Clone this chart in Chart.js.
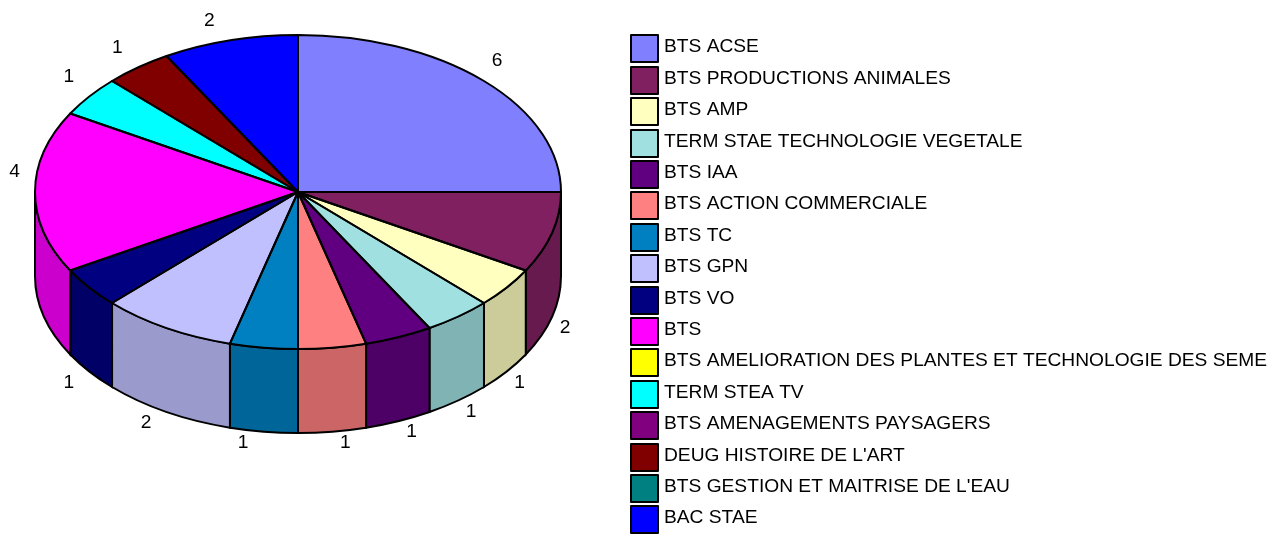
<!DOCTYPE html>
<html>
<head>
<meta charset="utf-8">
<title>Effectifs par formation</title>
<script src="https://cdn.jsdelivr.net/npm/chart.js@4"></script>
<style>
  html, body { margin: 0; padding: 0; background: #fff; }
  canvas { display: block; }
</style>
</head>
<body>
<canvas id="pieChart" width="1288" height="536"></canvas>
<script>
const categories = [
  "BTS ACSE", "BTS PRODUCTIONS ANIMALES", "BTS AMP", "TERM STAE TECHNOLOGIE VEGETALE",
  "BTS IAA", "BTS ACTION COMMERCIALE", "BTS TC", "BTS GPN", "BTS VO", "BTS",
  "BTS AMELIORATION DES PLANTES ET TECHNOLOGIE DES SEME", "TERM STEA TV",
  "BTS AMENAGEMENTS PAYSAGERS", "DEUG HISTOIRE DE L'ART",
  "BTS GESTION ET MAITRISE DE L'EAU", "BAC STAE",
];
const values = [6, 2, 1, 1, 1, 1, 1, 2, 1, 4, 0, 1, 0, 1, 0, 2];
const colors = [
  "#8080ff", "#802060", "#ffffc0", "#a0e0e0", "#600080", "#ff8080", "#0080c0", "#c0c0ff",
  "#000080", "#ff00ff", "#ffff00", "#00ffff", "#800080", "#800000", "#008080", "#0000ff",
];
const sideColors = [
  "#6666cc", "#661a4d", "#cccc9a", "#80b3b3", "#4d0066", "#cc6666", "#00669a", "#9a9acc",
  "#000066", "#cc00cc", "#cccc00", "#00cccc", "#660066", "#660000", "#006666", "#0000cc",
];

// the flattened pie on the page
const pieCenterX = 298;
const pieCenterY = 192;
const pieSquash = 157 / 263;
const pieDepth = 84;
const fontName = '"Liberation Sans", Arial, sans-serif';

const pie3d = {
  id: "pie3d",
  beforeDatasetsDraw(chart) {
    const ctx = chart.ctx;
    const arcs = chart.getDatasetMeta(0).data;
    const rx = arcs[0].outerRadius;
    const ry = rx * pieSquash;

    // walls, only the part of each slice that faces the front
    arcs.forEach((arc, i) => {
      const from = Math.max(arc.startAngle, 0);
      const to = Math.min(arc.endAngle, Math.PI);
      if (to <= from) return;
      ctx.save();
      ctx.beginPath();
      ctx.ellipse(pieCenterX, pieCenterY, rx, ry, 0, from, to);
      ctx.ellipse(pieCenterX, pieCenterY + pieDepth, rx, ry, 0, to, from, true);
      ctx.closePath();
      ctx.fillStyle = sideColors[i];
      ctx.fill();
      ctx.lineWidth = 2;
      ctx.strokeStyle = "#000";
      ctx.stroke();
      ctx.restore();
    });

    // the slices themselves are drawn by chart.js, squashed
    ctx.save();
    ctx.translate(pieCenterX, pieCenterY);
    ctx.scale(1, pieSquash);
    ctx.translate(-arcs[0].x, -arcs[0].y);
  },
  afterDatasetsDraw(chart) {
    const ctx = chart.ctx;
    ctx.restore();

    const arcs = chart.getDatasetMeta(0).data;
    const rx = arcs[0].outerRadius;
    const ry = rx * pieSquash;

    // outlines
    arcs.forEach((arc) => {
      if (arc.endAngle - arc.startAngle <= 0) return;
      ctx.beginPath();
      ctx.moveTo(pieCenterX, pieCenterY);
      ctx.ellipse(pieCenterX, pieCenterY, rx, ry, 0, arc.startAngle, arc.endAngle);
      ctx.closePath();
      ctx.lineWidth = 2;
      ctx.lineJoin = "round";
      ctx.strokeStyle = "#000";
      ctx.stroke();
    });

    // value labels
    ctx.font = "19.2px " + fontName;
    ctx.fillStyle = "#000";
    ctx.textAlign = "center";
    ctx.textBaseline = "middle";
    arcs.forEach((arc, i) => {
      if (!values[i]) return;
      const mid = (arc.startAngle + arc.endAngle) / 2;
      const front = Math.sin(mid) > 0.01;
      const x = pieCenterX + rx * Math.cos(mid) + (Math.cos(mid) > 0 ? 13 : -20.5);
      const y = pieCenterY + ry * Math.sin(mid) + (front ? pieDepth + 11 : -20);
      ctx.fillText(String(values[i]), x, y);
    });

    // legend
    categories.forEach((name, i) => {
      const top = Math.round(34.4 + i * 31.4);
      ctx.fillStyle = colors[i];
      ctx.fillRect(631, top + 1, 27, 27);
      ctx.lineWidth = 2;
      ctx.strokeStyle = "#000";
      ctx.strokeRect(631, top + 1, 27, 27);
      ctx.fillStyle = "#000";
      ctx.textAlign = "left";
      ctx.fillText(name, 664, 47.2 + i * 31.4);
    });
  },
};

new Chart(document.getElementById("pieChart"), {
  type: "pie",
  data: {
    labels: categories,
    datasets: [{ data: values, backgroundColor: colors, borderWidth: 0 }],
  },
  options: {
    responsive: false,
    animation: false,
    layout: { padding: { left: 35, right: 727, top: 5, bottom: 5 } },
    plugins: { legend: { display: false }, tooltip: { enabled: false } },
  },
  plugins: [pie3d],
});
</script>
</body>
</html>
